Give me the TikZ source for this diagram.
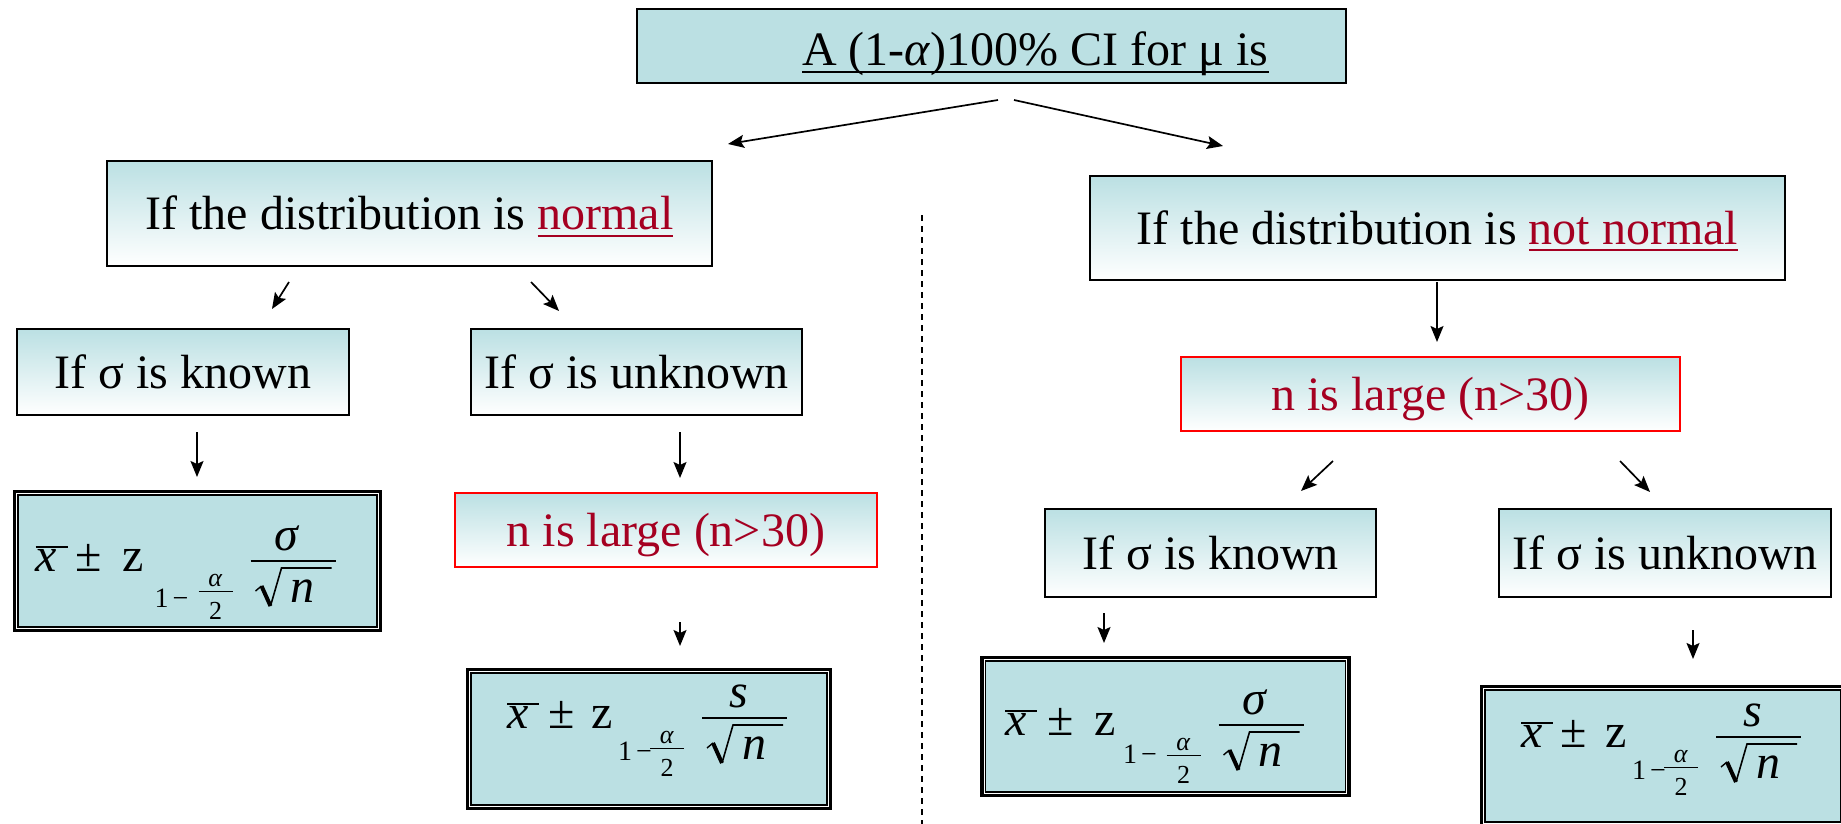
\documentclass[tikz,border=0pt]{standalone}
\usepackage{fontspec}
\setmainfont{Liberation Serif}
\usetikzlibrary{arrows.meta,calc}
\definecolor{boxteal}{HTML}{BBE0E3}
\definecolor{dred}{HTML}{A50021}
\newcommand\myul[1]{\setbox0\hbox{#1}\rlap{\rule[-3.5pt]{\wd0}{1pt}}\box0}
% #1 prefix, #2 x, #3 y (z baseline), #4 numerator, #5 xbar x, #6 pm x, #7 z x, #8 "1" x, #9 "1" baseline
\newcommand\ciform[9]{%
\begin{scope}[shift={(#2,#3)}]
 \node[fml] (#1xb) at (#5,0) {\textit{x}};
 \draw[line width=0.7pt] (#5-11,-24) -- (#5+21,-24);
 \node[fml] (#1pm) at (#6,0) {±};
 \node[fml] (#1z) at (#7,0) {z};
 \node[fsub] (#1one) at (#8,#9) {1};
 \node[fsub] (#1mi) at (#8+19,#9) {−};
 \node[ffrac] (#1al) at (18,15) {\textit{α}};
 \draw[line width=0.5pt] (1,20) -- (35,20);
 \node[ffrac] (#1two) at (18,48) {2};
 \draw[line width=0.9pt] (53,-10) -- (138,-10);
 \node[fml] (#1num) at (90,-21) {\textit{#4}};
 \draw[line width=0.7pt] (58,20) -- (64,15);
 \draw[line width=2pt] (64,15) -- (73,35);
 \draw[line width=0.8pt] (73,35) -- (84,-3) -- (134,-3);
 \node[fml] (#1n) at (105,31) {\textit{n}};
\end{scope}}
\tikzset{
  fml/.style={font=\fontsize{24}{28}\selectfont, inner sep=0pt, anchor=base},
  fsub/.style={font=\fontsize{14}{16}\selectfont, inner sep=0pt, anchor=base},
  ffrac/.style={font=\fontsize{13}{15}\selectfont, inner sep=0pt, anchor=base},
  gbox/.style={draw=black, line width=1.2pt, top color=boxteal, bottom color=white,
    inner sep=0pt, font=\fontsize{24}{28}\selectfont, text height=16pt, text depth=0pt},
  rbox/.style={gbox, draw=red, line width=1pt, text=dred},
  topbox/.style={draw=black, line width=1pt, fill=boxteal, inner sep=0pt,
    font=\fontsize{24}{28}\selectfont, text height=20pt, text depth=0pt},
  fbox/.style={draw=black, line width=1.6pt, fill=white, inner sep=0pt},
  finner/.style={draw=black, line width=0.8pt, fill=boxteal},
  arr/.style={line width=0.85pt, -{Stealth[length=8pt, width=6.5pt, inset=1.5pt]}},
  sep/.style={line width=0.75pt, dash pattern=on 3pt off 2.5pt}
}
\begin{document}
\begin{tikzpicture}[x=0.5pt, y=-0.5pt]
\useasboundingbox (0,0) rectangle (1841,824);
\clip (0,0) rectangle (1841,824);
% boxes
\node[topbox, minimum width=354.5pt, minimum height=37pt] (top) at (991.5,46)
  {\hspace*{44pt}\myul{A (1-\textit{α})100\% CI for μ is}};
\node[gbox, minimum width=302.5pt, minimum height=52.5pt] (norm) at (409.5,213.5)
  {If the distribution is \textcolor{dred}{\myul{normal}}};
\node[gbox, minimum width=347.5pt, minimum height=52pt] (notnorm) at (1437.5,228)
  {If the distribution is \textcolor{dred}{\myul{not normal}}};
\node[gbox, minimum width=166pt, minimum height=43pt] (knownL) at (183,372) {If σ is known};
\node[gbox, minimum width=165.5pt, minimum height=43pt] (unknownL) at (636.5,372) {If σ is unknown};
\node[rbox, minimum width=211pt, minimum height=37pt] (redL) at (666,530) {n is large (n>30)};
\node[rbox, minimum width=249.5pt, minimum height=37pt] (redR) at (1430.5,394) {n is large (n>30)};
\node[gbox, minimum width=165.5pt, minimum height=44pt] (knownR) at (1210.5,553) {If σ is known};
\node[gbox, minimum width=166pt, minimum height=44pt] (unknownR) at (1665,553) {If σ is unknown};
% formula boxes
\node[fbox, minimum width=183pt, minimum height=69.5pt] (f1) at (197.5,561) {};
\draw[finner] ($(f1.north west)+(5,5)$) rectangle ($(f1.south east)+(-5,-5)$);
\ciform{fa}{197.5}{571}{σ}{-151}{-109}{-64.5}{-36}{36}
\node[fbox, minimum width=181.5pt, minimum height=69.5pt] (f2) at (649,739) {};
\draw[finner] ($(f2.north west)+(5,5)$) rectangle ($(f2.south east)+(-5,-5)$);
\ciform{fb}{649}{728}{s}{-131}{-87.5}{-46.5}{-24}{32}
\node[fbox, minimum width=183.5pt, minimum height=69pt] (f3) at (1165.5,726.5) {};
\draw[finner] ($(f3.north west)+(5,5)$) rectangle ($(f3.south east)+(-5,-5)$);
\ciform{fc}{1165.5}{735}{σ}{-149.5}{-104.5}{-60.5}{-35.5}{28}
\node[fbox, minimum width=181.5pt, minimum height=69.5pt] (f4) at (1663,756) {};
\draw[finner] ($(f4.north west)+(5,5)$) rectangle ($(f4.south east)+(-5,-5)$);
\ciform{fd}{1663}{747}{s}{-131}{-89}{-47}{-24}{32}
% separator
\coordinate (dtop) at (922,215);
\coordinate (dbot) at (922,824);
\draw[sep] (dtop) -- (dbot);
% arrow end points
\coordinate (a1s) at (998,100);  \coordinate (a1e) at (728,144);
\coordinate (a2s) at (1014,100); \coordinate (a2e) at (1223,146);
\coordinate (a3s) at (289,282);  \coordinate (a3e) at (272,309);
\coordinate (a4s) at (531,282);  \coordinate (a4e) at (559,311);
\coordinate (a5s) at (197,432);  \coordinate (a5e) at (197,477);
\coordinate (a6s) at (680,432);  \coordinate (a6e) at (680,478);
\coordinate (a7s) at (680,622);  \coordinate (a7e) at (680,646);
\coordinate (a8s) at (1437,282); \coordinate (a8e) at (1437,342);
\coordinate (a9s) at (1333,461); \coordinate (a9e) at (1301,491);
\coordinate (a10s) at (1620,461); \coordinate (a10e) at (1650,492);
\coordinate (a11s) at (1104,613); \coordinate (a11e) at (1104,643);
\coordinate (a12s) at (1693,630); \coordinate (a12e) at (1693,659);
\foreach \i in {1,...,12} { \draw[arr] (a\i s) -- (a\i e); }
\end{tikzpicture}
\end{document}
